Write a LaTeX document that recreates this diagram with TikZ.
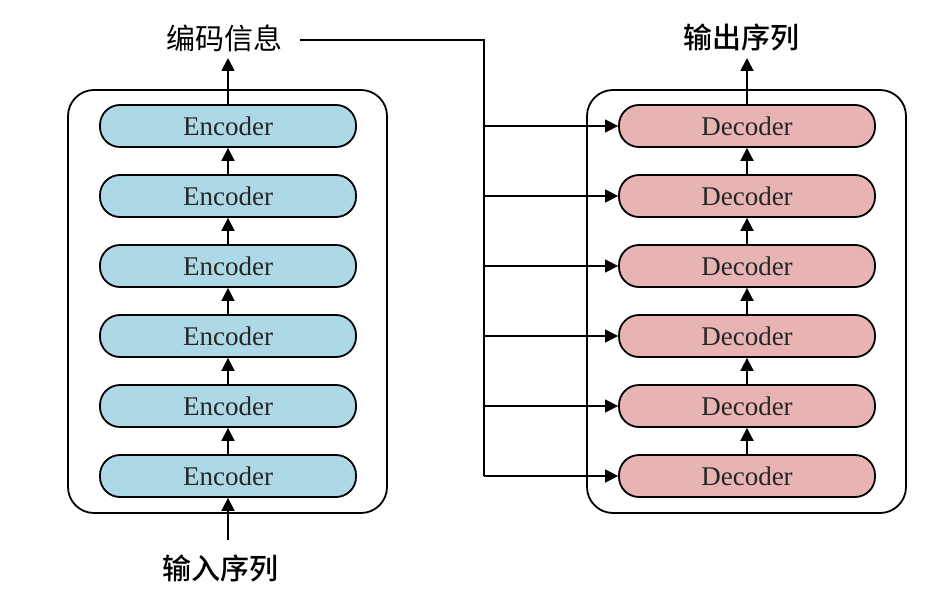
\documentclass[tikz,border=0pt]{standalone}
\usepackage{fontspec}
\setmainfont{Liberation Serif}
\newfontfamily\cjk{Noto Sans CJK SC}
\newfontfamily\cjkm{Noto Sans CJK SC Medium}
\usetikzlibrary{arrows.meta}
\definecolor{encfill}{HTML}{ADD8E6}
\definecolor{decfill}{HTML}{E7B3B3}
\begin{document}
\begin{tikzpicture}[x=1pt,y=-1pt,
  line width=1.8pt,
  pill/.style={draw, rounded corners=20pt, minimum width=256pt, minimum height=42pt, inner sep=0pt,
    font=\fontsize{27}{30}\selectfont, text=black!85},
  encbox/.style={pill, fill=encfill},
  decbox/.style={pill, fill=decfill},
  frame/.style={draw, rounded corners=26pt},
  arr/.style={-{Triangle[length=13pt,width=13pt]}},
  lab/.style={font=\cjk\fontsize{29}{32}\selectfont},
  labb/.style={font=\cjkm\fontsize{29}{32}\selectfont}
]
\useasboundingbox (0,0) rectangle (947,599);
\draw[frame] (68,90) rectangle (387,513);
\draw[frame] (587,90) rectangle (906,513);
\foreach \i/\y in {1/126,2/196,3/266,4/336,5/406,6/476}{
  \node[encbox] (e\i) at (228,\y) {Encoder};
  \node[decbox] (d\i) at (747,\y) {Decoder};
  \coordinate (j\i) at (484,\y);
}
\foreach \a/\b in {2/1,3/2,4/3,5/4,6/5}{
  \draw[arr] (e\a.north) -- (e\b.south);
  \draw[arr] (d\a.north) -- (d\b.south);
}
\node[lab] (info) at (224,38) {编码信息};
\node[labb] (inp) at (220,568) {输入序列};
\node[labb] (out) at (741,37) {输出序列};
\coordinate (tin) at (228,58);
\coordinate (tout) at (747,58);
\coordinate (bin) at (228,540);
\coordinate (jt) at (484,40);
\draw[arr] (e1.north) -- (tin);
\draw[arr] (d1.north) -- (tout);
\draw[arr] (bin) -- (e6.south);
\draw[line width=1.5pt] ([xshift=14pt]info.east |- jt) -- (jt) -- (j6);
\foreach \i in {1,...,6}{
  \draw[arr, line width=1.5pt] (j\i) -- (d\i.west);
}
\end{tikzpicture}
\end{document}
